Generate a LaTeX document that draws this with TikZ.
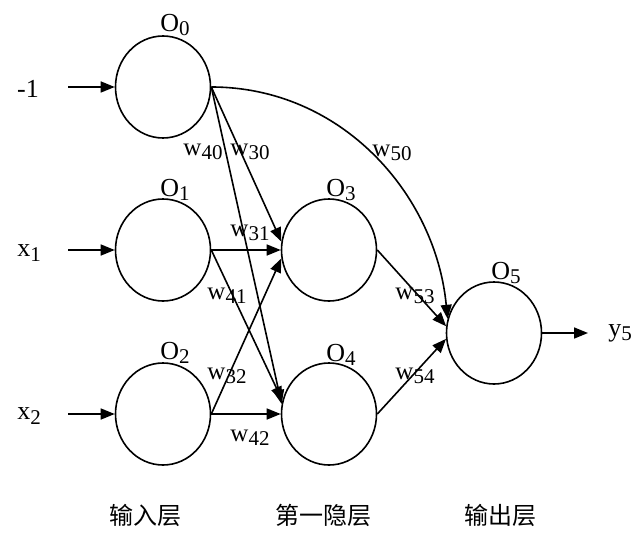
\documentclass[tikz,border=0pt]{standalone}
\usepackage{fontspec}
\setmainfont{Liberation Serif}
\newfontfamily\cjk{Noto Sans CJK SC}
\usetikzlibrary{arrows.meta,shapes.geometric}
\newcommand{\lsub}[1]{\raisebox{-0.35ex}{\fontsize{10.5}{12}\selectfont #1}}
\tikzset{
  neuron/.style={draw=black,line width=0.8pt,ellipse,minimum width=47.5pt,minimum height=51pt,inner sep=0pt},
  tag/.style={font=\fontsize{13}{15}\selectfont,inner sep=1pt},
  wlab/.style={font=\fontsize{12.5}{14}\selectfont,inner sep=1pt},
  layer/.style={font=\cjk\fontsize{12}{14}\selectfont,inner sep=1pt},
  arr/.style={-{Triangle[length=7pt,width=5.5pt]},draw=black,line width=0.8pt}
}

\begin{document}
\begin{tikzpicture}[x=0.5pt,y=-0.5pt]
  \fill[white] (0,0) rectangle (640,545);
  \useasboundingbox (0,0) rectangle (640,545);
  % neurons
  \node[neuron] (o0) at (163,87) {};
  \node[neuron] (o1) at (163,250) {};
  \node[neuron] (o2) at (163,414) {};
  \node[neuron] (o3) at (329,250) {};
  \node[neuron] (o4) at (329,414) {};
  \node[neuron] (o5) at (494,333) {};
  \node[tag] (t0) at (175,25) {O\lsub{0}};
  \node[tag] (t1) at (175,190) {O\lsub{1}};
  \node[tag] (t2) at (175,353) {O\lsub{2}};
  \node[tag] (t3) at (341,190) {O\lsub{3}};
  \node[tag] (t4) at (341,355) {O\lsub{4}};
  \node[tag] (t5) at (506,273) {O\lsub{5}};
  % inputs and output
  \node[tag] (in0) at (28,89) {-1};
  \node[tag] (in1) at (29,253) {x\lsub{1}};
  \node[tag] (in2) at (29,416) {x\lsub{2}};
  \coordinate (s0) at (68,87);
  \coordinate (s1) at (68,250);
  \coordinate (s2) at (68,414);
  \draw[arr] (s0) -- (o0.west);
  \draw[arr] (s1) -- (o1.west);
  \draw[arr] (s2) -- (o2.west);
  \coordinate (out) at (588,333);
  \draw[arr] (o5.east) -- (out);
  \node[tag] (y5) at (620,333) {y\lsub{5}};
  % weights
  \draw[arr] (o0.east) -- (o3.170);
  \draw[arr] (o0.east) -- (o4.168);
  \draw[arr] (o0.east) .. controls +(130,0) and +(-12,-125) .. (o5.163);
  \draw[arr] (o1.east) -- (o3.west);
  \draw[arr] (o1.east) -- (o4.164);
  \draw[arr] (o2.east) -- (o3.190);
  \draw[arr] (o2.east) -- (o4.west);
  \draw[arr] (o3.east) -- (o5.172);
  \draw[arr] (o4.east) -- (o5.187);
  \node[wlab] (w40) at (203,152) {w\lsub{40}};
  \node[wlab] (w30) at (250,152) {w\lsub{30}};
  \node[wlab] (w50) at (392,153) {w\lsub{50}};
  \node[wlab] (w31) at (250,233) {w\lsub{31}};
  \node[wlab] (w41) at (227,296) {w\lsub{41}};
  \node[wlab] (w32) at (227,376) {w\lsub{32}};
  \node[wlab] (w42) at (250,438) {w\lsub{42}};
  \node[wlab] (w53) at (415,296) {w\lsub{53}};
  \node[wlab] (w54) at (415,376) {w\lsub{54}};
  % layers
  \node[layer] (l1) at (145,515) {输入层};
  \node[layer] (l2) at (323,515) {第一隐层};
  \node[layer] (l3) at (500,515) {输出层};
\end{tikzpicture}
\end{document}
